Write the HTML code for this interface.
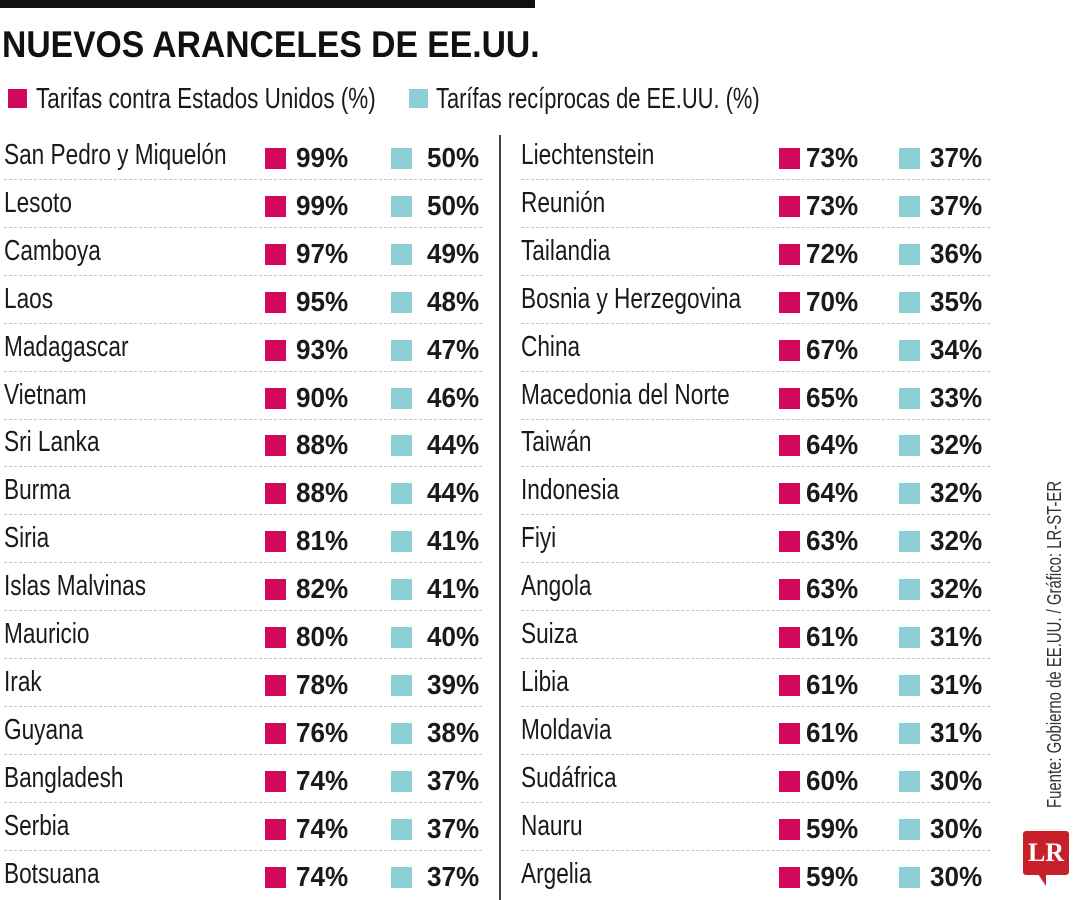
<!DOCTYPE html>
<html><head><meta charset="utf-8">
<style>
body{margin:0;width:1080px;height:900px;background:#fff;position:relative;overflow:hidden;font-family:"Liberation Sans",sans-serif;color:#1a1a1a}
.abs{position:absolute;white-space:nowrap}
.nm{font-size:29px;transform:scaleX(0.78);transform-origin:0 50%;line-height:34px}
.lg{font-size:29px;transform-origin:0 50%;line-height:34px}
.val{font-size:28px;font-weight:bold;transform:scaleX(0.93);transform-origin:0 50%;line-height:34px}
.sq{position:absolute;width:21px;height:21px}
.mag{background:#d2085c}.cy{background:#8ccfd4}
.sep{position:absolute;height:0;border-top:1.5px dashed #c4c4c4}
</style></head><body>
<div class="abs" style="left:0;top:0;width:535px;height:8px;background:#111"></div>
<div class="abs" style="left:2px;top:24px;font-size:37px;font-weight:bold;transform:scaleX(0.91);transform-origin:0 0;color:#111">NUEVOS ARANCELES DE EE.UU.</div>
<div>
<div class="sq mag" style="left:8px;top:89px;width:19px;height:19px"></div>
<div class="abs lg" style="left:36px;top:82px;transform:scaleX(0.775)">Tarifas contra Estados Unidos (%)</div>
<div class="sq cy" style="left:409px;top:89px;width:19px;height:19px"></div>
<div class="abs lg" style="left:436px;top:82px;transform:scaleX(0.755)">Tarífas recíprocas de EE.UU. (%)</div>
</div>
<div class="abs" style="left:499px;top:135px;width:2px;height:765px;background:#444"></div>
<div id="tbl"></div>
<div class="abs" style="left:1044px;top:808px;font-size:20px;transform:rotate(-90deg) scaleX(0.745);transform-origin:0 0;color:#333">Fuente: Gobierno de EE.UU. / Gráfico: LR-ST-ER</div>
<div class="abs" style="left:1023px;top:831px;width:46px;height:44px;background:#c8202a;border-radius:3px;color:#fff;font-family:'Liberation Serif',serif;font-weight:bold;font-size:26px;text-align:center;line-height:44px">LR</div>
<div class="abs" style="left:1038px;top:874px;width:0;height:0;border-left:8px solid transparent;border-right:0;border-top:12px solid #c8202a"></div>
<script>
const countriesL=["San Pedro y Miquelón","Lesoto","Camboya","Laos","Madagascar","Vietnam","Sri Lanka","Burma","Siria","Islas Malvinas","Mauricio","Irak","Guyana","Bangladesh","Serbia","Botsuana"];
const contraL=[99,99,97,95,93,90,88,88,81,82,80,78,76,74,74,74];
const recipL=[50,50,49,48,47,46,44,44,41,41,40,39,38,37,37,37];
const countriesR=["Liechtenstein","Reunión","Tailandia","Bosnia y Herzegovina","China","Macedonia del Norte","Taiwán","Indonesia","Fiyi","Angola","Suiza","Libia","Moldavia","Sudáfrica","Nauru","Argelia"];
const contraR=[73,73,72,70,67,65,64,64,63,63,61,61,61,60,59,59];
const recipR=[37,37,36,35,34,33,32,32,32,32,31,31,31,30,30,30];
const tbl=document.getElementById('tbl');
function mk(cls,l,t,txt){const d=document.createElement('div');d.className=cls;d.style.left=l+'px';d.style.top=t+'px';if(txt!==undefined)d.textContent=txt;tbl.appendChild(d);return d;}
function col(names,a,b,x0,xs1,xv1,xs2,xv2,xe,side){
  names.forEach((n,i)=>{
    const cy=156+i*47.9;
    const nm=mk('abs nm',x0,cy-18,n);
    
    
    const s1=mk('sq mag',xs1,cy-8);
    
    
    const v1=mk('abs val',xv1,cy-15,a[i]+'%');
    
    
    const s2=mk('sq cy',xs2,cy-8);
    
    
    const v2=mk('abs val',xv2,cy-15,b[i]+'%');
    
    
    if(i<names.length-1){const s=mk('sep',x0,cy+23);s.style.width=(xe-x0)+'px';
      
      }
  });
}
col(countriesL,contraL,recipL,4,265,296,391,427,482,'left');
col(countriesR,contraR,recipR,521,779,806,899,930,990,'right');
</script>
</body></html>
